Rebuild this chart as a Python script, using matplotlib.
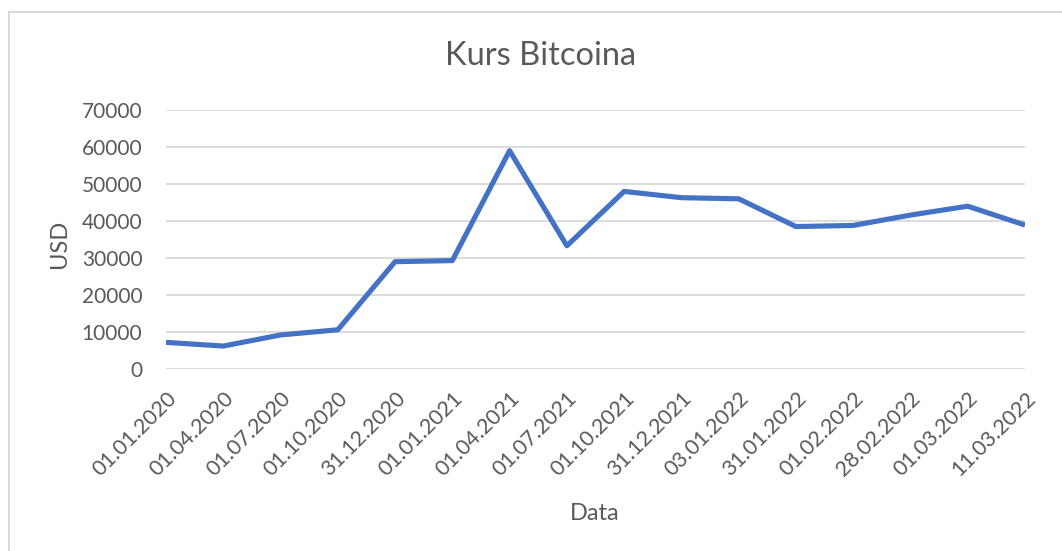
import matplotlib
matplotlib.use("Agg")
import matplotlib.pyplot as plt
from matplotlib.lines import Line2D

dates = ["01.01.2020", "01.04.2020", "01.07.2020", "01.10.2020", "31.12.2020",
         "01.01.2021", "01.04.2021", "01.07.2021", "01.10.2021", "31.12.2021",
         "03.01.2022", "31.01.2022", "01.02.2022", "28.02.2022", "01.03.2022",
         "11.03.2022"]
usd = [7200, 6200, 9200, 10600, 29000, 29300, 59000, 33300, 48000, 46300,
       46000, 38500, 38800, 41600, 44000, 38900]
yticks = [0, 10000, 20000, 30000, 40000, 50000, 60000, 70000]

plt.rcParams['font.family'] = ['Lato', 'DejaVu Sans']
txt = '#595959'

W, H = 1062, 551
fig = plt.figure(figsize=(W / 100, H / 100), dpi=100)
ax = fig.add_axes([166 / W, 1 - 369 / H, (1025 - 166) / W, (369 - 110) / H])

x = list(range(len(dates)))
ax.plot(x, usd, color='#4472C4', linewidth=3.7, solid_joinstyle='round',
        solid_capstyle='butt', zorder=3)

ax.set_xlim(0, len(dates) - 1)
ax.set_ylim(0, 70000)
ax.set_yticks(yticks)
ax.set_yticklabels([str(v) for v in yticks], color=txt, fontsize=15)
ax.set_xticks(x)
ax.set_xticklabels(dates, rotation=45, ha='right', va='top',
                   rotation_mode='anchor', color=txt, fontsize=15.5)
ax.tick_params(axis='both', length=0)
ax.tick_params(axis='y', pad=17)
ax.tick_params(axis='x', pad=14)
ax.grid(axis='y', color='#D9D9D9', linewidth=1.3)
ax.set_axisbelow(True)
for s in ax.spines.values():
    s.set_visible(False)

fig.text(541 / W, 1 - 56 / H, "Kurs Bitcoina", ha='center', va='center',
         color=txt, fontsize=23.5)
fig.text(59 / W, 1 - 244 / H, "USD", ha='center', va='center', rotation=90,
         color=txt, fontsize=17)
fig.text(595 / W, 1 - 514 / H, "Data", ha='center', va='center',
         color=txt, fontsize=17)

# outer chart border (only top and left are visible in the crop)
fig.add_artist(Line2D([8.5 / W, 1.0], [1 - 11.5 / H, 1 - 11.5 / H],
                      transform=fig.transFigure, color='#D9D9D9', linewidth=1.5))
fig.add_artist(Line2D([8.5 / W, 8.5 / W], [0.0, 1 - 11.5 / H],
                      transform=fig.transFigure, color='#D9D9D9', linewidth=1.5))

fig.savefig("out.png", dpi=100, facecolor='white')
